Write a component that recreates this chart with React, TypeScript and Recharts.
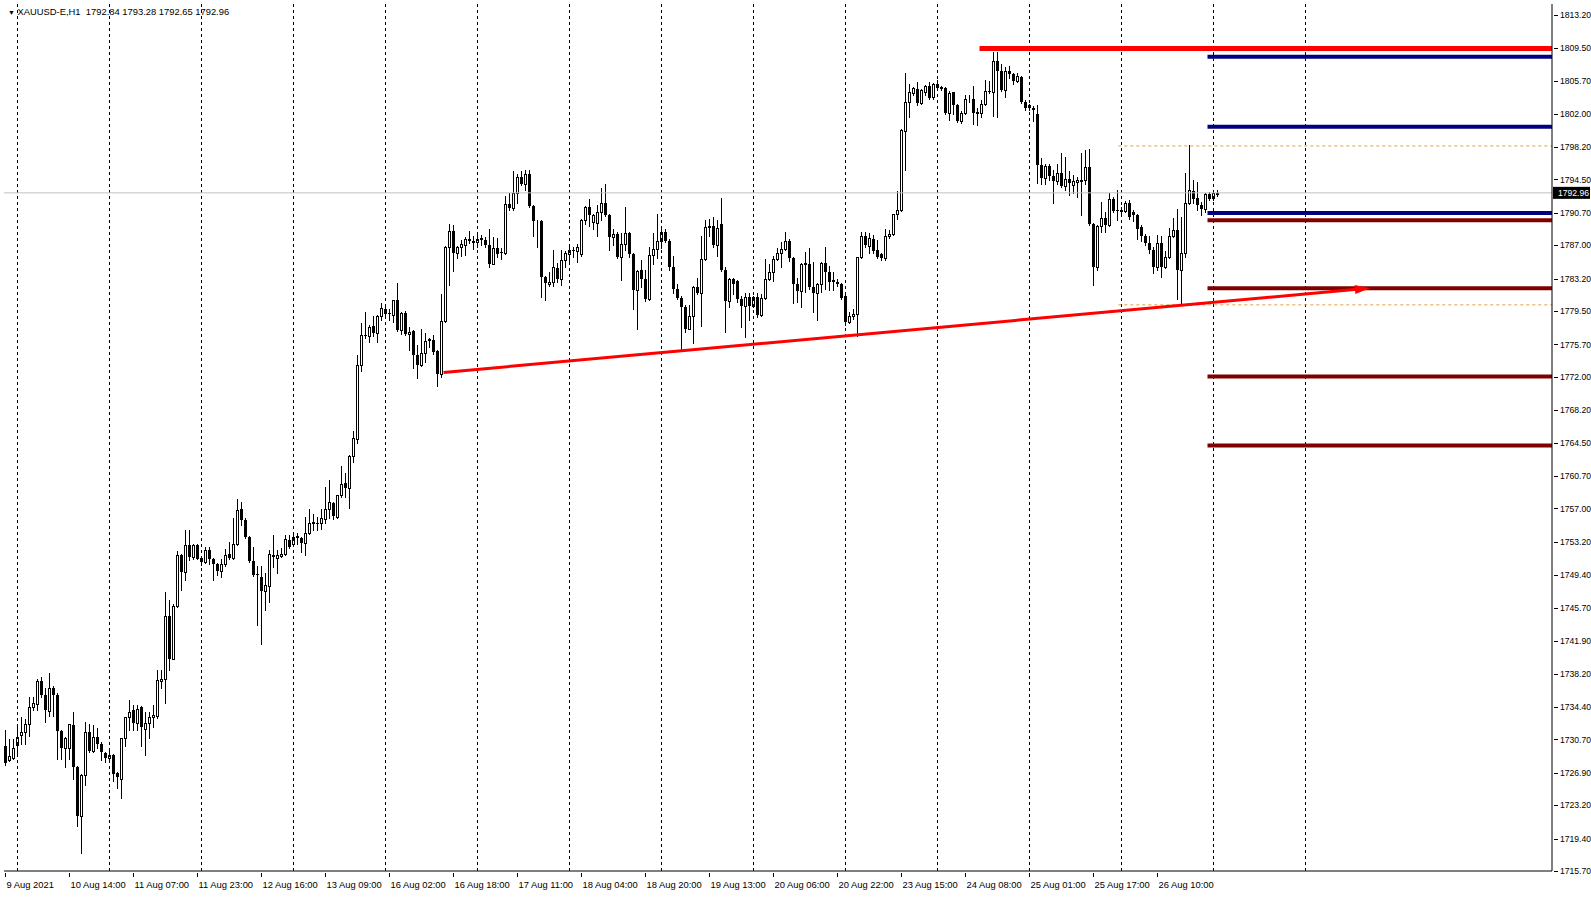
import React from 'react';
import { ComposedChart, Bar, XAxis, YAxis, ReferenceLine } from 'recharts';

type Ohlc = [number, number, number, number]; // open, high, low, close

// XAUUSD H1 candles, one array per trading day (01:00 .. 23:00)
const aug09: Ohlc[] = [
  [1729.9, 1731.8, 1727.8, 1728.0], [1728.3, 1730.7, 1728.2, 1728.8], [1728.6, 1730.7, 1728.5, 1729.7],
];
const aug10: Ohlc[] = [
  [1730.0, 1732.1, 1728.9, 1731.0], [1731.2, 1733.2, 1730.2, 1731.5], [1731.5, 1733.0, 1730.2, 1732.5],
  [1732.4, 1735.5, 1731.1, 1734.4], [1734.4, 1735.5, 1734.0, 1734.8], [1734.7, 1737.6, 1734.0, 1737.4],
  [1737.3, 1737.8, 1735.5, 1735.7], [1735.8, 1736.5, 1732.7, 1734.0], [1733.9, 1738.3, 1733.4, 1736.5],
  [1736.5, 1736.8, 1733.4, 1735.8], [1735.8, 1736.0, 1728.5, 1731.6], [1731.6, 1731.8, 1728.5, 1729.7],
  [1729.7, 1731.0, 1727.6, 1730.8], [1729.7, 1732.5, 1728.5, 1732.4], [1732.3, 1733.8, 1726.2, 1727.6],
  [1727.6, 1727.7, 1720.8, 1722.0], [1722.0, 1726.7, 1717.7, 1726.6], [1726.6, 1732.7, 1725.5, 1731.5],
  [1731.5, 1732.5, 1729.3, 1729.4], [1729.4, 1732.3, 1729.3, 1731.0], [1731.0, 1732.0, 1729.7, 1730.2],
  [1730.2, 1730.4, 1728.3, 1729.3], [1729.2, 1729.3, 1728.1, 1728.6],
];
const aug11: Ohlc[] = [
  [1728.6, 1729.4, 1728.4, 1728.9], [1728.9, 1729.0, 1726.0, 1726.8], [1726.9, 1727.0, 1725.1, 1726.4],
  [1726.2, 1730.9, 1724.0, 1730.9], [1730.9, 1733.2, 1729.9, 1733.2], [1733.2, 1735.2, 1731.8, 1733.8],
  [1734.0, 1734.6, 1731.8, 1732.6], [1732.6, 1734.6, 1731.8, 1734.2], [1734.4, 1734.5, 1729.9, 1732.1],
  [1731.9, 1733.8, 1728.9, 1732.6], [1732.6, 1733.8, 1730.9, 1733.2], [1733.2, 1734.6, 1732.1, 1733.5],
  [1733.4, 1738.6, 1733.1, 1737.5], [1737.4, 1738.6, 1736.5, 1737.6], [1737.6, 1747.5, 1734.8, 1744.8],
  [1744.8, 1746.6, 1738.6, 1739.9], [1739.9, 1746.1, 1739.8, 1745.9], [1745.9, 1752.2, 1745.8, 1751.7],
  [1751.7, 1751.8, 1747.7, 1749.8], [1749.8, 1754.5, 1748.9, 1752.8], [1752.8, 1754.5, 1751.1, 1751.5],
  [1751.5, 1753.0, 1751.2, 1752.8], [1752.8, 1752.9, 1751.2, 1751.3],
];
const aug12: Ohlc[] = [
  [1751.4, 1751.5, 1750.6, 1750.9], [1750.9, 1752.6, 1750.8, 1752.3], [1752.3, 1752.6, 1750.7, 1751.3],
  [1751.3, 1751.4, 1748.9, 1750.7], [1750.7, 1750.8, 1749.4, 1749.9], [1749.9, 1751.3, 1749.2, 1750.7],
  [1750.7, 1752.4, 1750.5, 1751.7], [1751.8, 1753.2, 1751.3, 1751.4], [1751.4, 1755.9, 1751.3, 1752.9],
  [1752.9, 1758.1, 1752.8, 1756.8], [1756.9, 1757.7, 1755.1, 1755.7], [1755.7, 1755.9, 1753.6, 1753.8],
  [1753.8, 1753.9, 1750.9, 1751.0], [1751.0, 1752.6, 1749.3, 1749.4], [1749.5, 1750.4, 1743.7, 1749.4],
  [1749.2, 1750.4, 1741.6, 1747.6], [1747.6, 1749.7, 1745.4, 1748.3], [1748.2, 1752.3, 1746.4, 1751.8],
  [1751.7, 1754.0, 1750.3, 1751.5], [1751.4, 1752.3, 1749.6, 1751.7], [1751.6, 1752.5, 1751.5, 1751.8],
  [1751.8, 1754.0, 1751.7, 1753.5], [1753.4, 1754.0, 1752.5, 1752.6],
];
const aug13: Ohlc[] = [
  [1752.9, 1754.2, 1752.8, 1753.7], [1753.9, 1754.2, 1753.0, 1753.6], [1753.6, 1753.7, 1752.0, 1753.1],
  [1753.1, 1756.0, 1751.7, 1754.2], [1754.2, 1756.9, 1754.1, 1755.4], [1755.4, 1756.4, 1754.5, 1755.5],
  [1755.4, 1756.0, 1754.5, 1755.3], [1755.3, 1756.9, 1754.7, 1755.9], [1755.8, 1759.4, 1755.4, 1756.9],
  [1756.9, 1760.3, 1755.9, 1757.7], [1757.6, 1757.7, 1755.8, 1756.1], [1756.0, 1758.5, 1755.9, 1758.5],
  [1758.5, 1761.8, 1758.3, 1759.8], [1759.9, 1761.0, 1758.3, 1759.3], [1759.3, 1763.1, 1757.0, 1763.0],
  [1763.0, 1765.8, 1762.3, 1765.0], [1764.9, 1774.5, 1764.5, 1773.4], [1773.4, 1778.1, 1772.7, 1776.8],
  [1776.8, 1779.4, 1776.4, 1776.6], [1776.7, 1777.9, 1776.0, 1777.7], [1777.8, 1778.9, 1776.6, 1777.0],
  [1777.0, 1779.0, 1776.0, 1778.9], [1778.9, 1780.4, 1778.5, 1779.8],
];
const aug16: Ohlc[] = [
  [1779.7, 1780.1, 1779.0, 1779.2], [1779.3, 1779.7, 1778.5, 1779.2], [1779.1, 1780.8, 1778.2, 1780.7],
  [1780.7, 1782.7, 1777.2, 1777.3], [1777.3, 1779.4, 1776.9, 1779.3], [1779.3, 1779.5, 1776.8, 1776.9],
  [1776.9, 1777.7, 1775.0, 1777.1], [1777.2, 1777.3, 1773.0, 1774.5], [1774.5, 1775.6, 1771.9, 1773.4],
  [1773.4, 1777.5, 1773.2, 1774.7], [1774.7, 1777.0, 1773.7, 1776.1], [1776.3, 1776.4, 1775.4, 1776.1],
  [1776.2, 1776.8, 1774.6, 1774.8], [1774.9, 1775.0, 1770.9, 1772.3], [1772.3, 1781.4, 1772.0, 1778.4],
  [1778.4, 1786.9, 1778.3, 1786.8], [1786.8, 1789.4, 1782.5, 1788.6], [1788.6, 1789.3, 1784.1, 1786.1],
  [1786.1, 1786.9, 1785.5, 1786.8], [1786.8, 1787.6, 1785.8, 1787.1], [1787.0, 1787.9, 1785.9, 1787.7],
  [1787.6, 1788.6, 1787.2, 1787.7], [1787.5, 1788.0, 1786.6, 1787.3],
];
const aug17: Ohlc[] = [
  [1787.4, 1788.5, 1786.8, 1787.7], [1787.7, 1788.2, 1787.0, 1787.8], [1787.6, 1787.9, 1786.8, 1787.0],
  [1787.0, 1788.8, 1784.5, 1784.9], [1784.9, 1787.9, 1784.8, 1786.7], [1786.7, 1787.8, 1785.7, 1786.0],
  [1786.2, 1786.7, 1785.4, 1786.1], [1786.1, 1792.6, 1786.0, 1791.7], [1791.7, 1793.0, 1791.0, 1791.2],
  [1791.2, 1795.4, 1791.0, 1793.0], [1793.0, 1795.1, 1791.8, 1794.8], [1794.8, 1795.5, 1793.9, 1794.0],
  [1794.0, 1795.6, 1793.3, 1795.1], [1795.1, 1795.6, 1791.4, 1791.5], [1791.5, 1791.6, 1788.0, 1789.7],
  [1789.7, 1789.9, 1786.8, 1789.8], [1789.8, 1789.9, 1781.1, 1783.4], [1783.4, 1783.5, 1780.7, 1782.7],
  [1782.6, 1784.0, 1782.3, 1782.8], [1782.8, 1786.4, 1782.3, 1784.5], [1784.4, 1785.0, 1782.8, 1783.2],
  [1783.2, 1786.4, 1782.5, 1785.3], [1785.3, 1786.3, 1784.5, 1786.1],
];
const aug18: Ohlc[] = [
  [1786.0, 1786.9, 1785.1, 1786.4], [1786.5, 1786.8, 1785.7, 1786.3], [1786.3, 1787.1, 1785.1, 1786.8],
  [1786.0, 1790.0, 1785.8, 1789.9], [1789.9, 1791.5, 1789.4, 1791.3], [1791.3, 1792.3, 1789.2, 1790.4],
  [1789.6, 1790.6, 1788.8, 1790.4], [1789.5, 1791.6, 1788.0, 1790.8], [1790.8, 1793.5, 1789.9, 1791.8],
  [1791.8, 1794.0, 1790.3, 1790.4], [1790.4, 1790.5, 1786.5, 1787.9], [1787.9, 1788.8, 1787.0, 1788.3],
  [1788.3, 1788.5, 1785.5, 1785.6], [1785.6, 1788.4, 1783.0, 1787.1], [1787.1, 1791.3, 1786.4, 1788.4],
  [1788.4, 1788.5, 1785.6, 1786.0], [1786.0, 1786.1, 1779.7, 1781.9], [1781.9, 1784.2, 1777.4, 1784.1],
  [1784.2, 1785.3, 1782.2, 1783.1], [1783.1, 1784.2, 1780.6, 1780.9], [1780.9, 1786.8, 1780.8, 1785.9],
  [1785.9, 1788.4, 1784.8, 1786.6], [1786.6, 1790.5, 1785.5, 1787.5],
];
const aug19: Ohlc[] = [
  [1787.5, 1788.8, 1786.7, 1788.5], [1788.5, 1788.8, 1787.4, 1787.5], [1787.5, 1787.7, 1784.2, 1784.5],
  [1784.5, 1785.8, 1781.6, 1782.0], [1782.0, 1782.6, 1780.9, 1781.0], [1781.0, 1781.2, 1775.0, 1780.0],
  [1780.0, 1780.2, 1777.1, 1777.5], [1777.5, 1780.2, 1777.4, 1778.9], [1778.9, 1782.3, 1775.8, 1782.2],
  [1782.2, 1783.3, 1781.4, 1781.6], [1781.6, 1788.0, 1777.8, 1785.4], [1785.4, 1789.9, 1785.3, 1789.1],
  [1789.1, 1790.0, 1788.0, 1789.2], [1789.2, 1790.2, 1786.8, 1787.0], [1787.0, 1789.9, 1785.8, 1788.9],
  [1789.4, 1792.4, 1784.1, 1784.2], [1784.2, 1784.5, 1777.1, 1780.6], [1780.6, 1783.3, 1780.0, 1783.2],
  [1783.2, 1783.3, 1781.4, 1782.6], [1782.9, 1783.0, 1780.5, 1780.9], [1780.9, 1781.2, 1777.7, 1780.1],
  [1780.1, 1781.5, 1776.5, 1781.1], [1781.1, 1781.5, 1778.5, 1780.1],
];
const aug20: Ohlc[] = [
  [1780.1, 1781.2, 1780.0, 1781.1], [1781.1, 1781.6, 1778.8, 1779.0], [1779.0, 1781.4, 1778.9, 1781.0],
  [1781.0, 1785.4, 1780.9, 1783.1], [1783.1, 1784.9, 1783.0, 1784.0], [1784.0, 1785.8, 1782.9, 1785.4],
  [1785.4, 1786.7, 1785.3, 1786.1], [1786.1, 1787.4, 1784.5, 1786.6], [1786.6, 1788.5, 1786.4, 1787.5],
  [1787.5, 1787.7, 1785.2, 1785.5], [1785.5, 1785.6, 1780.4, 1782.6], [1782.6, 1783.3, 1780.5, 1781.8],
  [1781.8, 1785.0, 1779.9, 1784.9], [1784.9, 1786.2, 1781.7, 1785.0], [1784.9, 1786.7, 1782.0, 1782.2],
  [1782.2, 1785.1, 1779.4, 1781.6], [1781.6, 1782.7, 1778.5, 1782.6], [1782.6, 1785.1, 1781.7, 1785.0],
  [1785.0, 1786.8, 1782.0, 1783.9], [1783.9, 1784.6, 1781.9, 1782.8], [1783.0, 1784.0, 1781.9, 1782.8],
  [1782.8, 1783.2, 1782.3, 1782.6], [1782.6, 1782.7, 1780.9, 1781.0],
];
const aug23: Ohlc[] = [
  [1781.2, 1781.3, 1777.9, 1778.3], [1778.3, 1779.4, 1778.1, 1778.9], [1778.9, 1779.7, 1778.6, 1779.2],
  [1779.2, 1785.7, 1776.6, 1785.6], [1785.6, 1788.5, 1785.5, 1788.0], [1788.0, 1788.5, 1786.8, 1787.0],
  [1786.9, 1788.4, 1786.1, 1787.8], [1787.7, 1788.2, 1786.1, 1786.3], [1786.4, 1787.6, 1785.5, 1785.6],
  [1786.0, 1786.1, 1785.3, 1785.5], [1785.5, 1788.8, 1785.3, 1788.0], [1788.0, 1788.7, 1787.8, 1788.3],
  [1788.3, 1790.6, 1788.2, 1790.5], [1790.5, 1793.2, 1790.0, 1791.0], [1791.0, 1800.2, 1790.9, 1800.1],
  [1800.0, 1806.6, 1795.6, 1803.3], [1803.3, 1805.4, 1801.6, 1804.4], [1804.3, 1805.0, 1804.1, 1804.9],
  [1804.8, 1805.6, 1803.0, 1803.2], [1803.2, 1804.8, 1803.1, 1804.7], [1804.5, 1805.2, 1804.1, 1805.1],
  [1805.1, 1805.6, 1803.7, 1803.8], [1803.9, 1805.5, 1803.6, 1805.4],
];
const aug24: Ohlc[] = [
  [1805.4, 1805.8, 1804.7, 1804.9], [1804.9, 1805.1, 1804.7, 1805.0], [1804.9, 1805.0, 1802.0, 1802.1],
  [1802.1, 1804.6, 1801.3, 1804.3], [1804.4, 1804.5, 1802.0, 1803.0], [1803.0, 1803.1, 1801.0, 1801.2],
  [1801.2, 1802.3, 1800.9, 1802.1], [1802.1, 1804.1, 1802.0, 1803.7], [1803.6, 1804.1, 1803.3, 1803.7],
  [1803.7, 1805.1, 1800.8, 1802.1], [1802.1, 1802.6, 1800.7, 1802.2], [1802.1, 1803.5, 1801.6, 1803.1],
  [1803.1, 1805.8, 1803.0, 1804.6], [1804.6, 1805.7, 1804.3, 1804.4], [1804.4, 1809.0, 1801.7, 1808.0],
  [1808.0, 1809.0, 1801.6, 1806.8], [1806.8, 1807.6, 1804.6, 1804.7], [1804.7, 1807.3, 1803.9, 1806.8],
  [1806.8, 1807.4, 1806.1, 1806.5], [1806.5, 1806.6, 1805.4, 1805.7], [1805.7, 1806.6, 1805.6, 1806.3],
  [1806.2, 1806.3, 1803.2, 1803.3], [1803.3, 1803.5, 1802.4, 1802.6],
];
const aug25: Ohlc[] = [
  [1803.0, 1803.1, 1802.4, 1802.6], [1802.6, 1802.8, 1801.2, 1802.4], [1802.0, 1803.0, 1794.1, 1796.1],
  [1796.1, 1796.9, 1794.0, 1794.7], [1794.7, 1796.3, 1794.0, 1796.0], [1796.0, 1796.3, 1794.4, 1794.9],
  [1794.9, 1795.6, 1791.8, 1794.3], [1794.3, 1796.3, 1794.0, 1795.2], [1795.2, 1797.5, 1793.6, 1793.7],
  [1793.7, 1797.1, 1793.3, 1794.5], [1794.5, 1795.4, 1792.7, 1794.1], [1793.9, 1795.0, 1792.9, 1794.3],
  [1794.2, 1794.8, 1792.5, 1794.4], [1794.3, 1797.5, 1790.4, 1794.4], [1794.4, 1797.8, 1794.0, 1795.9],
  [1795.9, 1797.9, 1789.3, 1789.4], [1789.4, 1789.5, 1782.5, 1784.5], [1784.5, 1789.3, 1784.2, 1789.2],
  [1789.2, 1791.9, 1788.5, 1790.1], [1790.1, 1790.8, 1788.5, 1789.3], [1789.3, 1792.9, 1789.2, 1792.3],
  [1792.3, 1792.5, 1790.8, 1790.9], [1791.0, 1793.3, 1789.9, 1790.9],
];
const aug26: Ohlc[] = [
  [1790.9, 1791.4, 1790.6, 1791.0], [1790.9, 1792.0, 1790.8, 1791.8], [1791.8, 1792.1, 1790.0, 1790.2],
  [1790.8, 1791.0, 1789.7, 1790.4], [1790.4, 1790.5, 1787.7, 1788.8], [1789.1, 1789.3, 1787.5, 1788.0],
  [1788.0, 1788.3, 1787.0, 1787.2], [1787.2, 1788.0, 1786.1, 1786.4], [1786.5, 1786.8, 1783.8, 1784.5],
  [1784.5, 1788.2, 1784.2, 1787.2], [1787.2, 1788.0, 1783.4, 1784.5], [1784.5, 1786.3, 1784.4, 1785.7],
  [1785.7, 1788.9, 1785.5, 1788.0], [1788.0, 1790.1, 1787.9, 1788.7], [1788.7, 1791.1, 1780.9, 1784.2],
  [1784.2, 1790.2, 1780.4, 1786.1], [1786.1, 1795.2, 1785.7, 1791.8], [1791.8, 1798.4, 1791.7, 1793.3],
  [1793.2, 1794.4, 1791.8, 1792.3], [1792.4, 1794.2, 1791.0, 1791.6], [1791.6, 1791.9, 1790.4, 1791.1],
  [1791.1, 1792.9, 1790.8, 1792.8], [1792.8, 1793.1, 1792.1, 1792.3],
];
const aug27: Ohlc[] = [
  [1792.4, 1793.3, 1792.2, 1792.9], [1792.84, 1793.28, 1792.65, 1792.96],
];

const days: Ohlc[][] = [aug09, aug10, aug11, aug12, aug13, aug16, aug17, aug18, aug19, aug20, aug23, aug24, aug25, aug26, aug27];

// time axis labels (every 16 bars) and day separators
const timeLabels = [
  '9 Aug 2021', '10 Aug 14:00', '11 Aug 07:00', '11 Aug 23:00', '12 Aug 16:00', '13 Aug 09:00',
  '16 Aug 02:00', '16 Aug 18:00', '17 Aug 11:00', '18 Aug 04:00', '18 Aug 20:00', '19 Aug 13:00',
  '20 Aug 06:00', '20 Aug 22:00', '23 Aug 15:00', '24 Aug 08:00', '25 Aug 01:00', '25 Aug 17:00',
  '26 Aug 10:00',
];
const timeLabelBars = [0, 16, 32, 48, 64, 80, 96, 112, 128, 144, 160, 176, 192, 208, 224, 240, 256, 272, 288];
const dayStartBars = [3, 26, 49, 72, 95, 118, 141, 164, 187, 210, 233, 256, 279, 302, 325];

const priceTicks = [
  1715.7, 1719.4, 1723.2, 1726.9, 1730.7, 1734.4, 1738.2, 1741.9, 1745.7, 1749.4, 1753.2, 1757.0, 1760.7,
  1764.5, 1768.2, 1772.0, 1775.7, 1779.5, 1783.2, 1787.0, 1790.7, 1794.5, 1798.2, 1802.0, 1805.7, 1809.5, 1813.2,
];

// drawn objects
const resistanceLevel = 1809.4;
const resistanceFromBar = 243.5;
const blueLevels = [1808.46, 1800.49, 1790.66];
const maroonLevels = [1789.84, 1782.1, 1772.05, 1764.19];
const levelsFromBar = 300.5;
const boxLevels = [1798.3, 1780.2];
const boxFromBar = 278.2;
const trendFrom = { bar: 109.5, price: 1772.5 };
const trendTo = { bar: 341.1, price: 1782.1 };

const X_DOMAIN: [number, number] = [-0.375, 386.625];
const Y_DOMAIN: [number, number] = [1715.7, 1814.476];
const FONT = '"Liberation Sans", Arial, sans-serif';
const FS = 9.4;
const FS_PRICE = 8.6;

const data = days.flat().map(([o, h, l, c], idx) => ({ idx, o, h, l, c, range: [l, h] }));
const last = data[data.length - 1];

const Candle = (props: any) => {
  const { x, y, width, height, payload } = props;
  if (x == null || !payload) return null;
  const { o, h, l, c } = payload;
  const cx = Math.floor(x + width / 2) + 0.5;
  const ppu = height / (h - l);
  const py = (p: number) => y + (h - p) * ppu;
  const top = Math.round(py(Math.max(o, c)));
  const bot = Math.round(py(Math.min(o, c)));
  const wick = <line x1={cx} y1={Math.round(py(h))} x2={cx} y2={Math.round(py(l)) + 1} stroke="#000" strokeWidth={1} />;
  if (c >= o) {
    return (
      <g>
        {wick}
        <rect x={cx - 1} y={top + 0.5} width={2} height={Math.max(bot - top, 0)} fill="#fff" stroke="#000" strokeWidth={1} />
      </g>
    );
  }
  return (
    <g>
      {wick}
      <rect x={cx - 1.5} y={top} width={3} height={Math.max(bot - top, 1)} fill="#000" />
    </g>
  );
};

const TimeTick = (props: any) => {
  const { x, y, payload } = props;
  const k = timeLabelBars.indexOf(payload.value);
  if (k < 0) return null;
  const px = Math.floor(x) + 0.5;
  return (
    <g>
      <line x1={px} y1={y} x2={px} y2={y + 4} stroke="#000" />
      <text x={px + 1} y={y + 15} fontSize={FS} fontFamily={FONT} fill="#000" textAnchor="start">
        {timeLabels[k]}
      </text>
    </g>
  );
};

const PriceTick = (props: any) => {
  const { x, y, payload } = props;
  const py = Math.round(y) + 0.5;
  return (
    <g>
      <line x1={x} y1={py} x2={x + 4} y2={py} stroke="#000" />
      <text x={x + 6} y={y + 3.2} fontSize={FS_PRICE} fontFamily={FONT} fill="#000" textAnchor="start">
        {payload.value.toFixed(2)}
      </text>
    </g>
  );
};

const Arrow = (props: any) => {
  const { x1, y1, x2, y2 } = props;
  if (x1 == null) return null;
  const a = Math.atan2(y2 - y1, x2 - x1);
  const len = 15;
  const half = 4.5;
  const bx = x2 - len * Math.cos(a);
  const by = y2 - len * Math.sin(a);
  const pts = `${x2},${y2} ${bx - half * Math.sin(a)},${by + half * Math.cos(a)} ${bx + half * Math.sin(a)},${by - half * Math.cos(a)}`;
  return (
    <g>
      <line x1={x1} y1={y1} x2={bx + 2 * Math.cos(a)} y2={by + 2 * Math.sin(a)} stroke="#ff0000" strokeWidth={3} />
      <polygon points={pts} fill="#ff0000" />
    </g>
  );
};

const PriceTag = (props: any) => {
  const vb = props.viewBox || {};
  const right = (vb.x || 0) + (vb.width || 0);
  const yy = vb.y || 0;
  return (
    <g>
      <rect x={right + 1} y={yy - 6} width={37} height={12} fill="#000" />
      <text x={right + 6} y={yy + 3.2} fontSize={FS_PRICE} fontFamily={FONT} fill="#fff">
        {last.c.toFixed(2)}
      </text>
    </g>
  );
};

export default function App() {
  return (
    <div style={{ position: 'absolute', left: 0, top: 0, width: 1591, height: 897, background: '#fff', overflow: 'hidden' }}>
      <ComposedChart
        width={1591}
        height={897}
        data={data}
        margin={{ top: 4, right: 0, bottom: 0, left: 4 }}
      >
        <XAxis
          dataKey="idx"
          type="number"
          domain={X_DOMAIN}
          allowDataOverflow
          ticks={timeLabelBars}
          interval={0}
          height={26}
          tickSize={0}
          tickLine={false}
          axisLine={{ stroke: '#000' }}
          tick={<TimeTick />}
        />
        <XAxis xAxisId="top" orientation="top" dataKey="idx" type="number" domain={X_DOMAIN} allowDataOverflow height={0} tick={false} tickLine={false} axisLine={{ stroke: '#000' }} />
        <YAxis
          orientation="right"
          type="number"
          domain={Y_DOMAIN}
          allowDataOverflow
          ticks={priceTicks}
          interval={0}
          width={39}
          tickSize={0}
          tickLine={false}
          axisLine={{ stroke: '#000' }}
          tick={<PriceTick />}
        />
        <YAxis yAxisId="left" orientation="left" type="number" domain={Y_DOMAIN} allowDataOverflow width={0} tick={false} tickLine={false} axisLine={{ stroke: '#000' }} />

        {dayStartBars.map((d) => (
          <ReferenceLine key={'g' + d} x={d} stroke="#000" strokeDasharray="3 3" strokeWidth={1} />
        ))}

        <ReferenceLine y={last.c} stroke="#c0c0c0" strokeWidth={1} label={<PriceTag />} />

        {boxLevels.map((p) => (
          <ReferenceLine key={'b' + p} segment={[{ x: boxFromBar, y: p }, { x: X_DOMAIN[1], y: p }]} stroke="#e0a040" strokeDasharray="3 3" strokeWidth={1} />
        ))}

        <Bar dataKey="range" barSize={3} shape={<Candle />} isAnimationActive={false} />

        <ReferenceLine
          segment={[{ x: resistanceFromBar, y: resistanceLevel }, { x: X_DOMAIN[1], y: resistanceLevel }]}
          stroke="#ff0000"
          strokeWidth={5}
        />
        {blueLevels.map((p) => (
          <ReferenceLine key={'n' + p} segment={[{ x: levelsFromBar, y: p }, { x: X_DOMAIN[1], y: p }]} stroke="#000080" strokeWidth={4} />
        ))}
        {maroonLevels.map((p) => (
          <ReferenceLine key={'m' + p} segment={[{ x: levelsFromBar, y: p }, { x: X_DOMAIN[1], y: p }]} stroke="#800000" strokeWidth={4} />
        ))}
        <ReferenceLine
          segment={[{ x: trendFrom.bar, y: trendFrom.price }, { x: trendTo.bar, y: trendTo.price }]}
          stroke="#ff0000"
          shape={Arrow}
        />
      </ComposedChart>
      <div style={{ position: 'absolute', left: 8, top: 6, fontFamily: FONT, fontSize: FS, lineHeight: '12px', color: '#000', whiteSpace: 'pre' }}>
        <span style={{ fontSize: 7 }}>▼</span>
        {` XAUUSD-E,H1  ${last.o.toFixed(2)} ${last.h.toFixed(2)} ${last.l.toFixed(2)} ${last.c.toFixed(2)}`}
      </div>
    </div>
  );
}
